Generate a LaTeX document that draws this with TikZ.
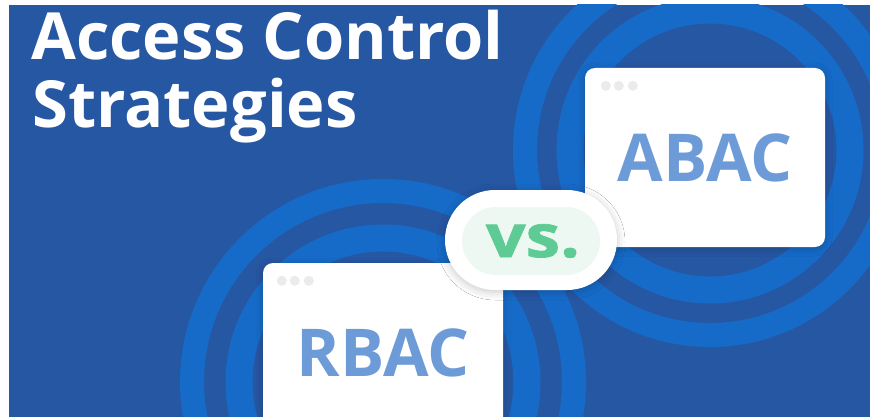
\documentclass[tikz,border=0pt]{standalone}
\usepackage{fontspec}
\setmainfont{Open Sans}
\usetikzlibrary{shadows.blur}
\definecolor{bgblue}{HTML}{2657A3}
\definecolor{ringblue}{HTML}{166BC9}
\definecolor{cardtext}{HTML}{6C9BD8}
\definecolor{vsgreen}{HTML}{5DCB93}
\definecolor{pillgreen}{HTML}{EEF8F2}
\definecolor{dotgrey}{HTML}{EBEBEB}
\begin{document}
\begin{tikzpicture}[x=1pt,y=-1pt,
  innerring/.style={draw=ringblue, line width=27pt},
  outerring/.style={draw=ringblue, line width=24pt},
  card/.style={fill=white, rounded corners=10pt, minimum width=240pt,
    minimum height=179pt, inner sep=0pt, text=cardtext,
    font=\fontsize{66}{66}\selectfont\bfseries,
    blur shadow={shadow xshift=0pt, shadow yshift=-2pt,
      shadow blur radius=7pt, shadow opacity=22}},
  winbtn/.style={fill=dotgrey},
  title/.style={anchor=base west, inner sep=0pt, text=white,
    font=\fontsize{65}{65}\selectfont\bfseries}]
\useasboundingbox (0,0) rectangle (870,417);
\fill[white] (0,0) rectangle (870,417);
\fill[bgblue] (9,5) rectangle (870,417);
\begin{scope}
  \clip (9,5) rectangle (870,417);
  % concentric rings behind each card
  \draw[innerring] (710,150) circle (140);
  \draw[outerring] (710,150) circle (185);
  \draw[innerring] (383,382) circle (144);
  \draw[outerring] (383,382) circle (191);
  % title
  \node[title] (t1) at (31,60) {Access Control};
  \node[title] (t2) at (32,128) {Strategies};
  % ABAC window
  \node[card] (abac) at (705,157.5) {ABAC};
  \foreach \dx in {21,34,48}
    \fill[winbtn] ([xshift=\dx pt,yshift=-18pt]abac.north west) circle (5);
  % RBAC window
  \node[card] (rbac) at (383,352.5) {RBAC};
  \foreach \dx in {19,32,46}
    \fill[winbtn] ([xshift=\dx pt,yshift=-18pt]rbac.north west) circle (5);
  % vs. badge
  \node[fill=white, rounded corners=50pt, minimum width=172pt,
    minimum height=100pt, inner sep=0pt,
    blur shadow={shadow xshift=0pt, shadow yshift=-2pt,
      shadow blur radius=8pt, shadow opacity=22}] (pill) at (531,240) {};
  \node[fill=pillgreen, rounded corners=34pt, minimum width=138pt,
    minimum height=68pt, inner sep=0pt] (pillin) at (531,241) {};
  \node[anchor=base, inner sep=0pt, text=vsgreen, xscale=1.18,
    font=\fontsize{59}{59}\selectfont\bfseries\addfontfeature{FakeBold=1.2}]
    (vs) at (533,257) {vs.};
\end{scope}
\end{tikzpicture}
\end{document}
